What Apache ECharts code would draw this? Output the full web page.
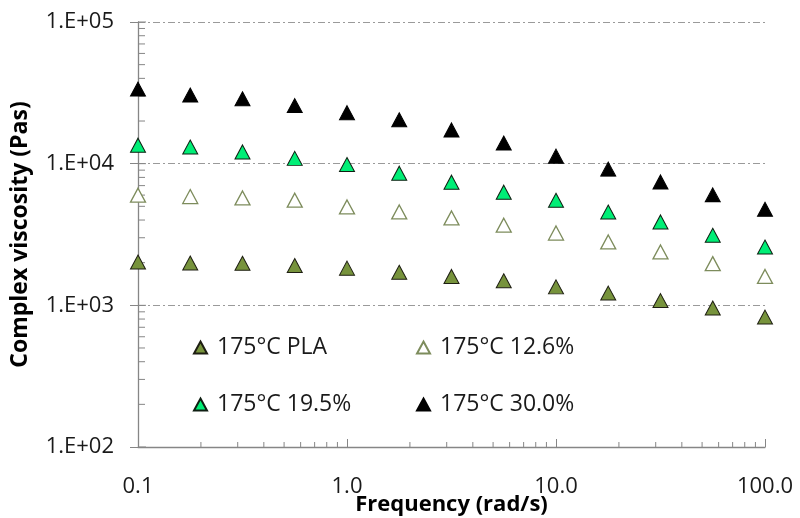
<!DOCTYPE html>
<html><head><meta charset="utf-8">
<script src="https://cdn.jsdelivr.net/npm/echarts@6/dist/echarts.min.js"></script>
<style>html,body{margin:0;padding:0;background:#fff}#c{width:800px;height:518px}</style>
</head><body><div id="c"></div>
<script>
const frequency = [0.1, 0.1778, 0.3162, 0.5623, 1.0, 1.778, 3.162, 5.623, 10.0, 17.78, 31.62, 56.23, 100.0];
const seriesNames = ['175°C PLA', '175°C 12.6%', '175°C 19.5%', '175°C 30.0%'];
const viscPLA  = [2020, 1990, 1980, 1910, 1830, 1710, 1600, 1490, 1350, 1220, 1080, 957, 826];
const visc126  = [5990, 5860, 5730, 5520, 4950, 4560, 4140, 3680, 3240, 2800, 2380, 1970, 1600];
const visc195  = [13500, 13100, 12100, 10900, 9870, 8570, 7400, 6290, 5520, 4560, 3880, 3120, 2580];
const visc300  = [33600, 30500, 28700, 25700, 22900, 20400, 17300, 14000, 11300, 9150, 7430, 6020, 4770];
const yMajorTicks = [100, 1000, 10000, 100000];
const yMinorTicks = [];
[100, 1000, 10000].forEach(b => { for (let k = 2; k <= 9; k++) yMinorTicks.push(k * b); });
const xMinorTicks = [];
[0.1, 1, 10].forEach(b => { for (let k = 2; k <= 9; k++) xMinorTicks.push(+(k * b).toFixed(4)); });

const FONT = '"Open Sans"';
const axisGrey = '#868686';
const chart = echarts.init(document.getElementById('c'), null, {renderer: 'canvas'});

function pairs(arr) { return frequency.map((f, i) => [f, arr[i]]); }

const markerStyles = [
  {color: '#77933C', borderColor: '#1e1e12', borderWidth: 1, opacity: 1},
  {color: '#ffffff', borderColor: '#7d8c5c', borderWidth: 1.3, opacity: 1},
  {color: '#00EE76', borderColor: '#0f1f12', borderWidth: 1, opacity: 1},
  {color: '#000000', borderColor: '#000000', borderWidth: 1, opacity: 1}
];
const seriesData = [viscPLA, visc126, visc195, visc300];

const tickSeries = [
  {
    type: 'custom', silent: true, z: 1, clip: false,
    data: yMinorTicks.map(v => [0.1, v]),
    renderItem: (params, api) => {
      const p = api.coord([api.value(0), api.value(1)]);
      return {type: 'line', shape: {x1: p[0], y1: p[1], x2: p[0] + 7, y2: p[1]}, style: {stroke: axisGrey, lineWidth: 1}};
    }
  },
  {
    type: 'custom', silent: true, z: 1, clip: false,
    data: yMajorTicks.map(v => [0.1, v]),
    renderItem: (params, api) => {
      const p = api.coord([api.value(0), api.value(1)]);
      return {type: 'line', shape: {x1: p[0], y1: p[1], x2: p[0] + 8, y2: p[1]}, style: {stroke: axisGrey, lineWidth: 1}};
    }
  },
  {
    type: 'custom', silent: true, z: 1, clip: false,
    data: xMinorTicks.map(v => [v, 100]),
    renderItem: (params, api) => {
      const p = api.coord([api.value(0), api.value(1)]);
      return {type: 'line', shape: {x1: p[0], y1: p[1], x2: p[0], y2: p[1] - 5}, style: {stroke: axisGrey, lineWidth: 1}};
    }
  }
];

const legendPos = [[193, 336], [416, 336], [193, 393], [416, 393]];

chart.setOption({
  animation: false,
  backgroundColor: '#ffffff',
  grid: {left: 138, right: 35, top: 22, bottom: 71, containLabel: false, outerBoundsMode: 'none'},
  legend: seriesNames.map((n, i) => ({
    data: [n], left: legendPos[i][0], top: legendPos[i][1],
    itemWidth: 13, itemHeight: 12, padding: 0,
    textStyle: {fontFamily: FONT, fontSize: 23, color: '#1a1a1a', padding: [0, 0, 0, 5]}
  })),
  xAxis: {
    type: 'log', logBase: 10, min: 0.1, max: 100,
    name: 'Frequency (rad/s)', nameLocation: 'middle', nameGap: 47, nameMoveOverlap: false,
    nameTextStyle: {fontFamily: FONT, fontSize: 22, fontWeight: 'bold', color: '#000'},
    axisLine: {show: true, lineStyle: {color: axisGrey, width: 1.3}},
    axisTick: {show: true, inside: true, length: 8, lineStyle: {color: axisGrey}},
    axisLabel: {fontFamily: FONT, fontSize: 22, color: '#1a1a1a', margin: 29,
      formatter: v => (+v).toFixed(1)},
    splitLine: {show: false}
  },
  yAxis: {
    type: 'log', logBase: 10, min: 100, max: 100000,
    name: 'Complex viscosity (Pas)', nameLocation: 'middle', nameGap: 106, nameMoveOverlap: false,
    nameTextStyle: {fontFamily: FONT, fontSize: 23, fontWeight: 'bold', color: '#000'},
    axisLine: {show: true, lineStyle: {color: axisGrey, width: 1.3}},
    axisTick: {show: true, inside: false, length: 8, lineStyle: {color: axisGrey}},
    axisLabel: {fontFamily: FONT, fontSize: 22, color: '#1a1a1a', margin: 24,
      formatter: v => '1.E+' + String(Math.round(Math.log10(v))).padStart(2, '0')},
    splitLine: {show: true, lineStyle: {color: '#9a9a9a', width: 1, type: [7, 3, 2, 3]}}
  },
  series: tickSeries.concat(seriesNames.map((n, i) => ({
    name: n, type: 'scatter', z: 3,
    symbol: 'triangle', symbolSize: [15, 14],
    itemStyle: markerStyles[i],
    data: pairs(seriesData[i])
  })))
});
</script></body></html>
